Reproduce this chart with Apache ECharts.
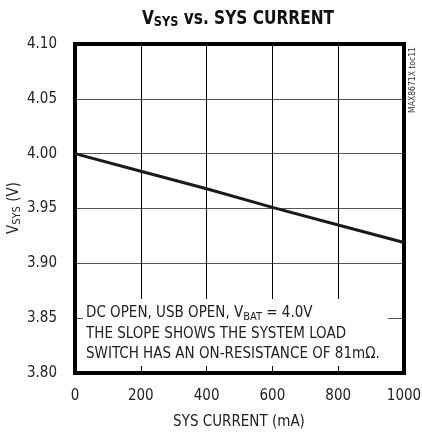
<!DOCTYPE html>
<html>
<head>
<meta charset="utf-8">
<script src="https://cdn.jsdelivr.net/npm/echarts@6/dist/echarts.min.js"></script>
<style>html,body{margin:0;padding:0;background:#fff;}#c{width:422px;height:434px;}</style>
</head>
<body>
<div id="c"></div>
<script>
var currentMA = [0, 200, 400, 600, 800, 1000];
var vsys = [4.000, 3.984, 3.968, 3.951, 3.935, 3.919];
var xTicks = [0, 200, 400, 600, 800, 1000];
var yTicks = [3.80, 3.85, 3.90, 3.95, 4.00, 4.05, 4.10];

var FONT = "'DejaVu Sans'";
var CW = 'condensed';
var chart = echarts.init(document.getElementById('c'), null, {renderer: 'canvas'});
var L = 75, R = 404, T = 44, B = 373;
chart.setOption({
  animation: false,
  backgroundColor: '#fff',
  grid: {left: L, right: 422 - R, top: T, bottom: 434 - B, show: true, borderWidth: 4, borderColor: '#000', z: 3, outerBoundsMode: 'none', containLabel: false},
  xAxis: {
    type: 'value', min: xTicks[0], max: xTicks[xTicks.length - 1], interval: 200,
    axisLine: {show: false}, axisTick: {show: false},
    axisLabel: {margin: 16, fontFamily: FONT, fontWeight: CW, fontSize: 15, color: '#222', formatter: function (v) { return String(v); }},
    splitLine: {show: true, lineStyle: {color: '#000', width: 1}}
  },
  yAxis: {
    type: 'value', min: yTicks[0], max: yTicks[yTicks.length - 1], interval: 0.05,
    axisLine: {show: false}, axisTick: {show: false},
    axisLabel: {margin: 18, fontFamily: FONT, fontWeight: CW, fontSize: 15, color: '#222', formatter: function (v) { return v.toFixed(2); }},
    splitLine: {show: true, lineStyle: {color: '#555', width: 1}}
  },
  series: [{
    type: 'line', data: currentMA.map(function (x, i) { return [x, vsys[i]]; }),
    showSymbol: false, lineStyle: {color: '#1a1a1a', width: 3}, z: 5
  }],
  graphic: [
    {type: 'rect', z: 1, shape: {x: 83, y: 299, width: 305, height: 67}, style: {fill: '#fff'}},
    {type: 'text', z: 6, left: 86, top: 303, style: {
      text: '{n|DC OPEN, USB OPEN, V}{s|BAT}{n| = 4.0V}\n{n|THE SLOPE SHOWS THE SYSTEM LOAD}\n{n|SWITCH HAS AN ON-RESISTANCE OF 81m\u03A9.}',
      fontFamily: FONT, fontWeight: CW, fontSize: 15, fill: '#222', lineHeight: 20.5,
      rich: {n: {fontFamily: FONT, fontWeight: CW, fontSize: 15, lineHeight: 20.5, fill: '#222'}, s: {fontFamily: FONT, fontWeight: CW, fontSize: 11, lineHeight: 20.5, padding: [7, 0, 0, 0], fill: '#222'}}
    }},
    {type: 'text', z: 6, x: 238, y: 19, scaleX: 0.9, style: {
      text: '{b|V}{bs|SYS}{b| vs. SYS CURRENT}', textAlign: 'center', textVerticalAlign: 'middle',
      rich: {b: {fontFamily: FONT, fontSize: 19, fontWeight: 'bold condensed', fill: '#111'}, bs: {fontFamily: FONT, fontSize: 14, fontWeight: 'bold condensed', padding: [6, 0, 0, 0], fill: '#111'}}
    }},
    {type: 'text', z: 6, x: 14, y: 208, rotation: Math.PI / 2, style: {
      text: '{n|V}{s|SYS}{n| (V)}', textAlign: 'center', textVerticalAlign: 'middle',
      rich: {n: {fontFamily: FONT, fontWeight: CW, fontSize: 15, fill: '#222'}, s: {fontFamily: FONT, fontWeight: CW, fontSize: 11, padding: [7, 0, 0, 0], fill: '#222'}}
    }},
    {type: 'text', z: 6, x: 239, y: 422, style: {
      text: 'SYS CURRENT (mA)', textAlign: 'center', textVerticalAlign: 'middle',
      fontFamily: FONT, fontWeight: CW, fontSize: 15, fill: '#222'
    }},
    {type: 'text', z: 6, x: 413, y: 80, rotation: Math.PI / 2, style: {
      text: 'MAX8671X toc11', textAlign: 'center', textVerticalAlign: 'middle',
      fontFamily: FONT, fontWeight: CW, fontSize: 8.5, fill: '#333'
    }}
  ]
});
</script>
</body>
</html>
